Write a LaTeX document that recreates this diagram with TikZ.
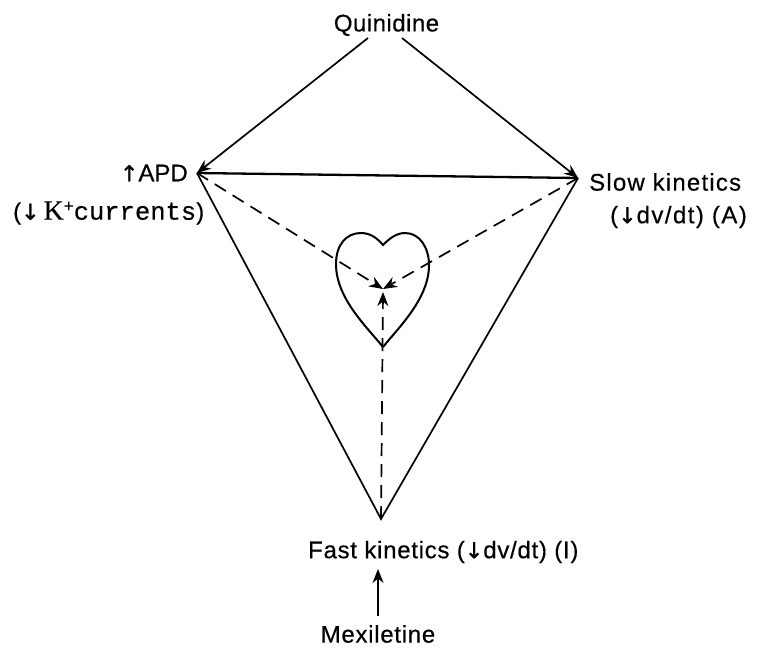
\documentclass[tikz,border=0pt]{standalone}
\usepackage{fontspec}
\setmainfont[FakeBold=0.4]{Liberation Sans}
\newfontfamily\arr[FakeBold=1]{DejaVu Sans}
\newfontfamily\cour[FakeBold=0.4]{Liberation Mono}
\newfontfamily\ser[FakeBold=0.4]{Liberation Serif}
\usetikzlibrary{arrows.meta}
\tikzset{
  lbl/.style={inner sep=0pt,font=\fontsize{24}{28}\selectfont,text=black},
  solidarrow/.style={line width=1.7pt,-{Stealth[length=14pt,width=11pt]}},
  solidline/.style={line width=1.7pt},
  dasharrow/.style={line width=1.7pt,dash pattern=on 13pt off 8pt,-{Stealth[length=14pt,width=11pt]}},
}
\newcommand{\dn}{{\arr\fontsize{22}{22}\selectfont ↓}}
\newcommand{\up}{{\arr\fontsize{22}{22}\selectfont ↑}}
\begin{document}
\begin{tikzpicture}[x=1pt,y=-1pt]
\useasboundingbox (0,0) rectangle (762,649);
\node[lbl] (quin) at (386.5,25) {\addfontfeatures{LetterSpace=2}Quinidine};
\node[lbl,anchor=east] (apd) at (188,173) {\up APD};
\node[lbl,anchor=west] (curr) at (13,213) {(\dn\,{\ser\fontsize{28}{28}\selectfont K}\raisebox{8pt}{\fontsize{17}{17}\selectfont +}{\cour\fontsize{25.5}{28}\selectfont currents})};
\node[lbl,anchor=west] (slow) at (589,182) {\addfontfeatures{LetterSpace=5}Slow kinetics};
\node[lbl,anchor=west] (dvdt) at (610,217) {\addfontfeatures{LetterSpace=6}(\dn dv/dt) (A)};
\node[lbl,anchor=west] (fast) at (308,552) {\addfontfeatures{LetterSpace=3}Fast kinetics (\dn dv/dt) (I)};
\node[lbl] (mex) at (378,634) {\addfontfeatures{LetterSpace=3}Mexiletine};
\coordinate (tl) at (368,38);
\coordinate (tr) at (402,38);
\coordinate (a) at (197,173);
\coordinate (s) at (578,178);
\coordinate (b) at (381,519);
\coordinate (c) at (383,289);
\coordinate (c2) at (383,292);
\coordinate (m1) at (378,616);
\coordinate (m2) at (378,569);
\draw[solidarrow] (tl) -- (a);
\draw[solidarrow] (tr) -- (s);
\draw[solidline,line width=2.3pt] (a) -- (s);
\draw[solidline] (a) -- (b) -- (s);
\draw[dasharrow] (a) -- (c);
\draw[dasharrow] (s) -- (c);
\draw[dasharrow] (b) -- (c2);
\draw[solidarrow] (m1) -- (m2);
\draw[line width=2pt] (383,347)
  .. controls (366,326) and (336,298) .. (336,264)
  .. controls (336,245) and (346,233) .. (361,233)
  .. controls (371,233) and (378,239) .. (383,245)
  .. controls (389,239) and (396,233) .. (405,233)
  .. controls (420,233) and (429,248) .. (429,265)
  .. controls (429,298) and (400,326) .. (383,347);
\end{tikzpicture}
\end{document}
